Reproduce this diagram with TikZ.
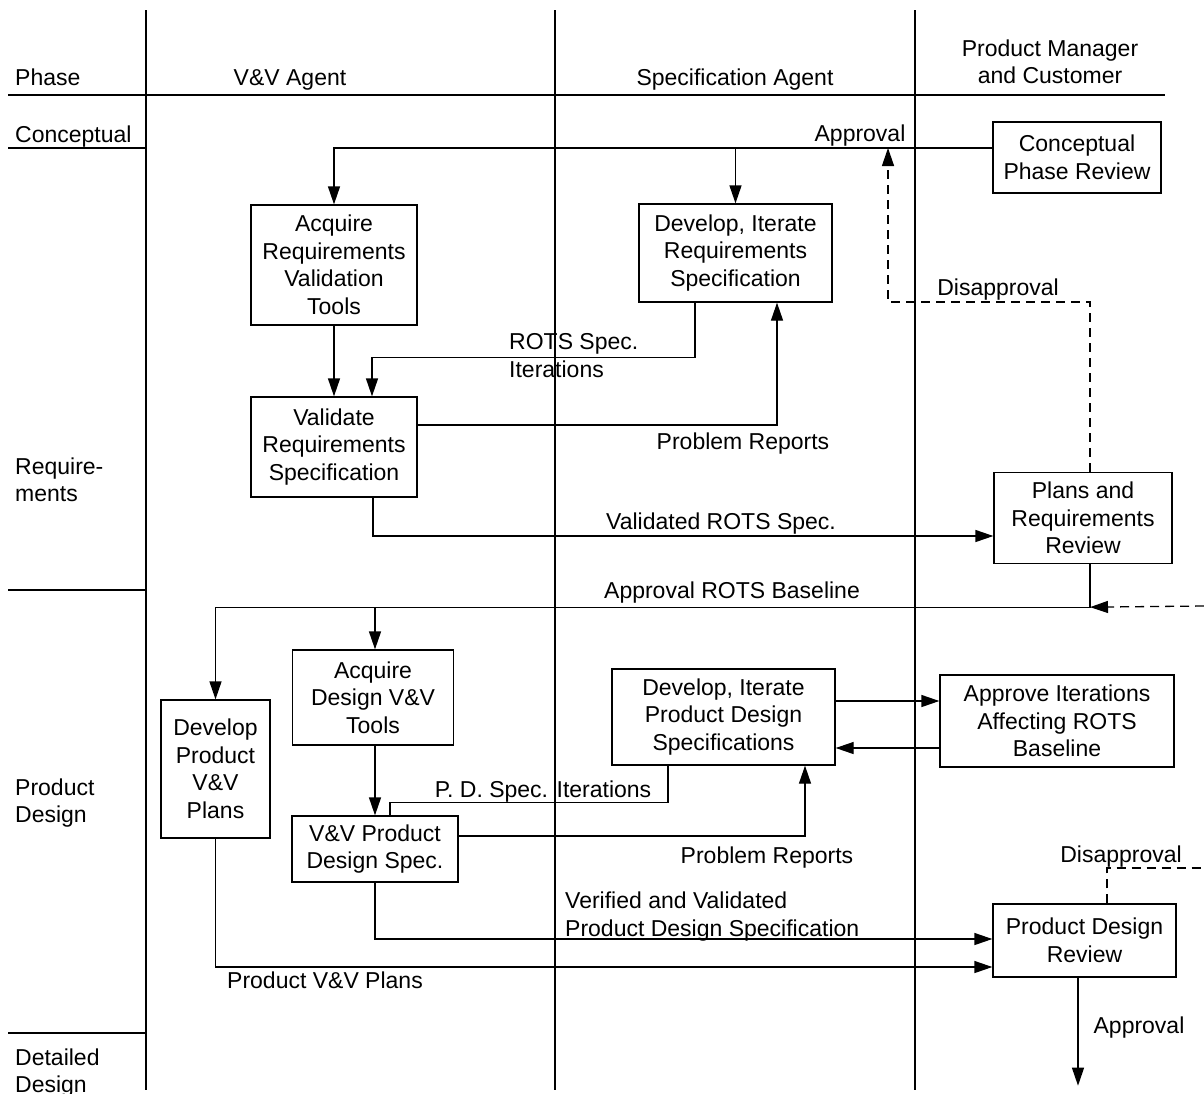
\documentclass[tikz,border=0pt]{standalone}
\usepackage{fontspec}
\setmainfont{Liberation Sans}
\usetikzlibrary{arrows.meta}
\begin{document}
\begin{tikzpicture}[x=1pt,y=-1pt,
  every node/.style={font=\fontsize{23}{27.5}\selectfont, inner sep=0pt},
  rule/.style={line width=1.3pt},
  box/.style={draw, line width=1.3pt, align=center, inner sep=0pt},
  conn/.style={line width=1.3pt},
  arr/.style={conn, -{Triangle[length=18pt,width=12pt]}},
  dashconn/.style={conn, dash pattern=on 9pt off 6pt},
  dasharr/.style={dashconn, -{Triangle[length=18pt,width=12pt]}},
  lbl/.style={anchor=center, text height=16.5pt, text depth=0pt},
  lblL/.style={anchor=west, text height=16.5pt, text depth=0pt}]

% canvas
\useasboundingbox (0,0) rectangle (1204,1093);

% swimlane grid
\draw[rule] (146,10) -- (146,1090);
\draw[rule] (555,10) -- (555,1090);
\draw[rule] (915,10) -- (915,1090);
\draw[rule] (8,95) -- (1165,95);
\draw[rule] (8,148) -- (146,148);
\draw[rule] (8,590) -- (146,590);
\draw[rule] (8,1033) -- (146,1033);

% lane headings
\node[lblL] (hphase) at (15,77) {Phase};
\node[lbl] (hvv) at (290,77) {V\&V Agent};
\node[lbl] (hspec) at (735,77) {Specification Agent};
\node[align=center] (hpm) at (1050,62) {Product Manager\\and Customer};

% phase names
\node[lblL] (pconc) at (15,134) {Conceptual};
\node[align=left, anchor=west] (preq) at (15,480) {Require-\\ments};
\node[align=left, anchor=west] (ppd) at (15,803) {Product\\Design};
\node[align=left, anchor=west] (pdd) at (15,1073) {Detailed\\Design};

% activity boxes
\node[box, minimum width=168pt, minimum height=71pt] (cpr) at (1077,157.5) {Conceptual\\Phase Review};
\node[box, minimum width=166pt, minimum height=120pt] (aqr) at (334,265) {Acquire\\Requirements\\Validation\\Tools};
\node[box, minimum width=193pt, minimum height=98pt] (dir) at (735.5,253) {Develop, Iterate\\Requirements\\Specification};
\node[box, minimum width=166pt, minimum height=100pt] (vrs) at (334,447) {Validate\\Requirements\\Specification};
\node[box, minimum width=178pt, minimum height=91pt] (prr) at (1083,518) {Plans and\\Requirements\\Review};
\node[box, minimum width=161pt, minimum height=95pt] (adv) at (373,697.5) {Acquire\\Design V\&V\\Tools};
\node[box, minimum width=109pt, minimum height=138pt] (dpv) at (215.5,769) {Develop\\Product\\V\&V\\Plans};
\node[box, minimum width=223pt, minimum height=96pt] (dpd) at (723.5,717) {Develop, Iterate\\Product Design\\Specifications};
\node[box, minimum width=234pt, minimum height=92pt] (aia) at (1057,721) {Approve Iterations\\Affecting ROTS\\Baseline};
\node[box, minimum width=166pt, minimum height=66pt] (vpd) at (375,849) {V\&V Product\\Design Spec.};
\node[box, minimum width=183pt, minimum height=73pt] (pdr) at (1084.5,940.5) {Product Design\\Review};

% conceptual approval feeding both requirement activities
\path ([yshift=9.5pt]cpr.west) coordinate (apL);
\draw[arr] (apL) -| (aqr.north);
\draw[arr] (apL -| dir.north) -- (dir.north);
\node[lbl] (lapp1) at (860,133) {Approval};

% requirements review disapproval loop
\coordinate (dtop) at (888,148);
\coordinate (dcorner) at (888,302);
\draw[dasharr] ([xshift=7pt]prr.north) |- (dcorner) -- (dtop);
\node[lbl] (ldis1) at (998,287) {Disapproval};

% requirements phase flows
\draw[arr] (aqr.south) -- (vrs.north);
\draw[arr] ([xshift=-40.5pt]dir.south) -- ++(0,55) -| ([xshift=38pt]vrs.north);
\node[align=left, anchor=west] (lrots) at (509,355.5) {ROTS Spec.\\Iterations};
\draw[arr] ([yshift=22pt]vrs.east) -| ([xshift=41.5pt]dir.south);
\node[lbl] (lpr1) at (743,441) {Problem Reports};
\draw[arr] ([xshift=39pt]vrs.south) |- ([yshift=-18pt]prr.west);
\node[lbl] (lvrs) at (721,521) {Validated ROTS Spec.};

% baseline approval feeding product design activities
\path ([xshift=7pt,yshift=-43pt]prr.south) coordinate (bl);
\draw[arr] ([xshift=7pt]prr.south) -- (bl) -| (dpv.north);
\path (bl -| vpd.north) coordinate (b2);
\draw[arr] (b2) -- (b2 |- adv.north);
\node[lbl] (lbase) at (732,590) {Approval ROTS Baseline};

% product design review disapproval, returning from the right
\coordinate (edgeB) at (1204,868);
\coordinate (edgeA) at (1204,606);
\draw[dashconn] ([xshift=22.5pt]pdr.north) |- (edgeB);
\draw[dasharr] (edgeA) -- (bl);
\node[lbl] (ldis2) at (1121,854) {Disapproval};

% product design phase flows
\draw[arr] (adv.south -| vpd.north) -- (vpd.north);
\draw[conn] ([xshift=-55.5pt]dpd.south) -- ++(0,37) -| ([xshift=15pt]vpd.north);
\node[lbl] (lpdi) at (543,789) {P. D. Spec. Iterations};
\draw[arr] ([yshift=13pt]vpd.east) -| ([xshift=81.5pt]dpd.south);
\node[lbl] (lpr2) at (767,855) {Problem Reports};
\path ([yshift=16pt]dpd.east) coordinate (c1);
\draw[arr] (c1) -- (c1 -| aia.west);
\path ([yshift=-27pt]aia.west) coordinate (c2);
\draw[arr] (c2) -- (c2 -| dpd.east);
\draw[arr] (vpd.south) |- ([yshift=1.5pt]pdr.west);
\node[align=left, anchor=west] (lvv) at (565,916.5) {Verified and Validated\\Product Design Specification};
\draw[arr] (dpv.south) |- ([yshift=-26.5pt]pdr.west);
\node[lbl] (lplans) at (325,980) {Product V\&V Plans};

% onward approval
\draw[arr] ([xshift=-6.5pt]pdr.south) -- ++(0,108) coordinate (apend);
\node[lbl] (lapp2) at (1139,1025) {Approval};
\end{tikzpicture}
\end{document}
